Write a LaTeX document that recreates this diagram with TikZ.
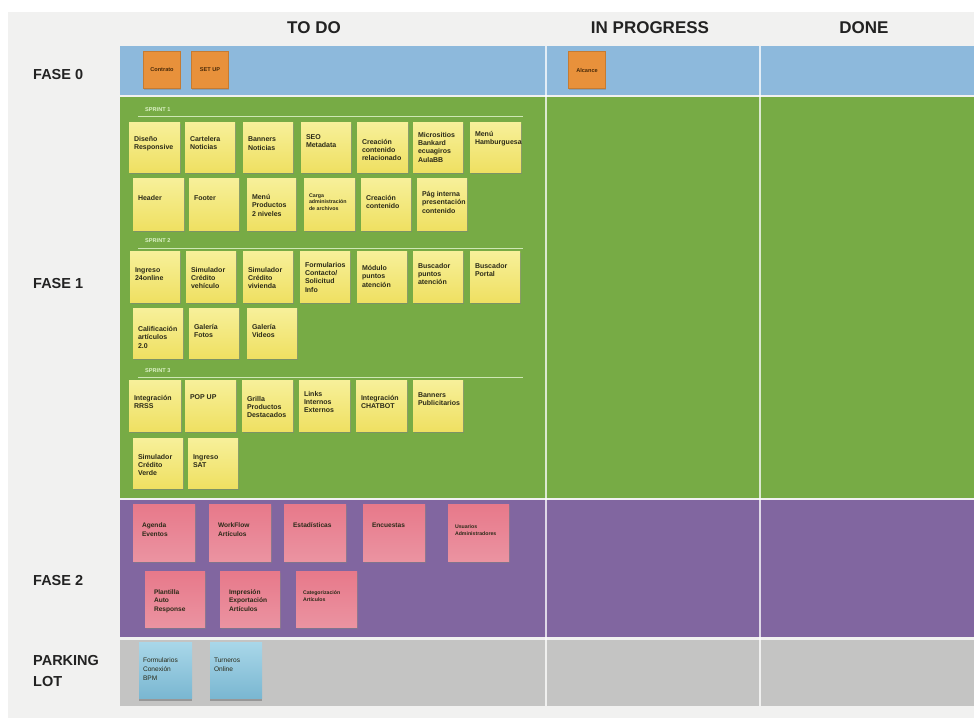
\documentclass[tikz,border=0pt]{standalone}
\usepackage{fontspec}
\setmainfont{Liberation Sans}
\usetikzlibrary{shadows}
\definecolor{pagebg}{HTML}{F1F1F0}
\definecolor{rowblue}{HTML}{8DB9DC}
\definecolor{rowgreen}{HTML}{77AB45}
\definecolor{rowpurple}{HTML}{8166A0}
\definecolor{rowgray}{HTML}{C4C4C3}
\definecolor{orangeS}{HTML}{E8913B}
\definecolor{yelT}{HTML}{F7F09A}
\definecolor{yelB}{HTML}{EFE062}
\definecolor{pnkT}{HTML}{E7798A}
\definecolor{pnkB}{HTML}{EB93A1}
\definecolor{bluT}{HTML}{A9D7E9}
\definecolor{bluB}{HTML}{7AB7D1}
\definecolor{inkS}{HTML}{2B2A18}
\definecolor{orgink}{HTML}{4A2A08}
\definecolor{sprintc}{HTML}{DDF2C8}
\definecolor{hdrc}{HTML}{222222}

\tikzset{
  note/.style={inner sep=0pt, draw=none, drop shadow={shadow xshift=0.5pt, shadow yshift=-1.6pt, opacity=0.55}},
  yel/.style={note, top color=yelT, bottom color=yelB},
  yelsm/.style={yel},
  pnk/.style={note, top color=pnkT, bottom color=pnkB},
  pnksm/.style={pnk},
  blu/.style={inner sep=0pt, draw=none, top color=bluT, bottom color=bluB,
    drop shadow={shadow xshift=0.3pt, shadow yshift=-2.5pt, opacity=0.65}},
  org/.style={inner sep=0pt, fill=orangeS, draw=orangeS!85!black, line width=0.3pt,
    minimum width=37, minimum height=37, text=orgink, font=\fontsize{5.6}{6.5}\selectfont\bfseries,
    drop shadow={shadow xshift=0.4pt, shadow yshift=-1.2pt, opacity=0.45}},
  stxt/.style={inner sep=0pt, anchor=north west, align=left, text=inkS},
  yeltxt/.style={xshift=5pt, font=\fontsize{7}{8.2}\selectfont\bfseries},
  yelsmtxt/.style={xshift=5pt, font=\fontsize{5.3}{6.6}\selectfont\bfseries},
  pnktxt/.style={xshift=9pt, font=\fontsize{6.6}{8.4}\selectfont\bfseries},
  pnksmtxt/.style={xshift=7pt, font=\fontsize{5.2}{6.4}\selectfont\bfseries},
  blutxt/.style={xshift=4pt, font=\fontsize{6.6}{9}\selectfont},
  hdr/.style={text=hdrc, font=\fontsize{17}{20}\selectfont\bfseries},
  rowlab/.style={text=hdrc, anchor=west, align=left, inner sep=0pt, font=\fontsize{14.5}{21}\selectfont\bfseries},
  sprintlab/.style={text=sprintc, anchor=west, inner sep=0pt, font=\fontsize{5.6}{6}\selectfont\bfseries},
  sprintline/.style={draw=sprintc!85!rowgreen, line width=0.8pt, dash pattern=on 1.5pt off 0.5pt},
  coldiv/.style={draw=white, opacity=0.75, line width=1.1pt},
}

% [text y offset]{name}{style}{x1}{y1}{x2}{y2}{text}
\newcommand{\stk}[8][14]{%
  \node[#3, minimum width={(#6)-(#4)}, minimum height={(#7)-(#5)}] (#2) at ({((#4)+(#6))/2},{((#5)+(#7))/2}) {};
  \node[stxt, #3txt, yshift=-#1pt] (#2-t) at (#2.north west) {#8};
}

\begin{document}
\begin{tikzpicture}[x=1pt,y=-1pt]
\useasboundingbox (0,0) rectangle (974,718);
\fill[white] (0,0) rectangle (974,718);
\fill[pagebg] (8,12) rectangle (974,718);

% rows
\fill[rowblue]   (120,46)  rectangle (974,95);
\fill[rowgreen]  (120,97)  rectangle (974,498);
\fill[rowpurple] (120,500) rectangle (974,637);
\fill[rowgray]   (120,640) rectangle (974,706);

% column dividers
\coordinate (c1t) at (546,46);  \coordinate (c1b) at (546,706);
\coordinate (c2t) at (760,46);  \coordinate (c2b) at (760,706);
\draw[coldiv] (c1t) -- (c1b);
\draw[coldiv] (c2t) -- (c2b);

% headers
\node[hdr] (h1) at (314,28) {TO DO};
\node[hdr] (h2) at (650,28) {IN PROGRESS};
\node[hdr] (h3) at (864,28) {DONE};

% row labels
\node[rowlab] (r0) at (33,75) {FASE 0};
\node[rowlab] (r1) at (33,284) {FASE 1};
\node[rowlab] (r2) at (33,580) {FASE 2};
\node[rowlab] (r3) at (33,671) {PARKING\\LOT};

% FASE 0
\node[org] (f0a) at (162,70) {Contrato};
\node[org] (f0b) at (210,70) {SET UP};
\node[org] (f0c) at (587,70) {Alcance};

% sprint labels and lines
\node[sprintlab] (sp1) at (145,110) {SPRINT 1};
\coordinate (l1a) at (138,116); \coordinate (l1b) at (523,116);
\draw[sprintline] (l1a) -- (l1b);
\node[sprintlab] (sp2) at (145,241) {SPRINT 2};
\coordinate (l2a) at (138,248); \coordinate (l2b) at (523,248);
\draw[sprintline] (l2a) -- (l2b);
\node[sprintlab] (sp3) at (145,371) {SPRINT 3};
\coordinate (l3a) at (138,377); \coordinate (l3b) at (523,377);
\draw[sprintline] (l3a) -- (l3b);

% Sprint 1
\stk[14.5]{s1a}{yel}{129}{122}{180}{172}{Diseño\\Responsive}
\stk[14.5]{s1b}{yel}{185}{122}{235}{172}{Cartelera\\Noticias}
\stk[15]{s1c}{yel}{243}{122}{293}{172}{Banners\\Noticias}
\stk[12.5]{s1d}{yel}{301}{122}{351}{172}{SEO\\Metadata}
\stk[17]{s1e}{yel}{357}{122}{408}{172}{Creación\\contenido\\relacionado}
\stk[10.5]{s1f}{yel}{413}{122}{463}{172}{Micrositios\\Bankard\\ecuagiros\\AulaBB}
\stk[9.5]{s1g}{yel}{470}{122}{521}{172}{Menú\\Hamburguesa}

\stk[17.5]{s1h}{yel}{133}{178}{184}{230}{Header}
\stk[17.5]{s1i}{yel}{189}{178}{239}{230}{Footer}
\stk[16.5]{s1j}{yel}{247}{178}{296}{230}{Menú\\Productos\\2 niveles}
\stk[15.5]{s1k}{yelsm}{304}{178}{355}{230}{Carga\\administración\\de archivos}
\stk[17.5]{s1l}{yel}{361}{178}{411}{230}{Creación\\contenido}
\stk[13.5]{s1m}{yel}{417}{178}{467}{230}{Pág interna\\presentación\\contenido}

% Sprint 2
\stk[16.5]{s2a}{yel}{130}{251}{180}{302}{Ingreso\\24online}
\stk[16.5]{s2b}{yel}{186}{251}{236}{302}{Simulador\\Crédito\\vehículo}
\stk[16.5]{s2c}{yel}{243}{251}{293}{302}{Simulador\\Crédito\\vivienda}
\stk[11.5]{s2d}{yel}{300}{251}{350}{302}{Formularios\\Contacto/\\Solicitud\\Info}
\stk[14.5]{s2e}{yel}{357}{251}{407}{302}{Módulo\\puntos\\atención}
\stk[12.5]{s2f}{yel}{413}{251}{463}{302}{Buscador\\puntos\\atención}
\stk[12.5]{s2g}{yel}{470}{251}{520}{302}{Buscador\\Portal}

\stk[18.5]{s2h}{yel}{133}{308}{183}{358}{Calificación\\artículos\\2.0}
\stk[16.5]{s2i}{yel}{189}{308}{239}{358}{Galería\\Fotos}
\stk[16.5]{s2j}{yel}{247}{308}{297}{358}{Galería\\Videos}

% Sprint 3
\stk[15.5]{s3a}{yel}{129}{380}{181}{431}{Integración\\RRSS}
\stk[14.5]{s3b}{yel}{185}{380}{236}{431}{POP UP}
\stk[16.5]{s3c}{yel}{242}{380}{293}{431}{Grilla\\Productos\\Destacados}
\stk[11.5]{s3d}{yel}{299}{380}{350}{431}{Links\\Internos\\Externos}
\stk[15.5]{s3e}{yel}{356}{380}{407}{431}{Integración\\CHATBOT}
\stk[12.5]{s3f}{yel}{413}{380}{463}{431}{Banners\\Publicitarios}

\stk[16.5]{s3g}{yel}{133}{438}{183}{488}{Simulador\\Crédito\\Verde}
\stk[16.5]{s3h}{yel}{188}{438}{238}{488}{Ingreso\\SAT}

% FASE 2
\stk[19]{p1}{pnk}{133}{504}{195}{561}{Agenda\\Eventos}
\stk[19]{p2}{pnk}{209}{504}{271}{561}{WorkFlow\\Artículos}
\stk[19]{p3}{pnk}{284}{504}{346}{561}{Estadísticas}
\stk[19]{p4}{pnk}{363}{504}{425}{561}{Encuestas}
\stk[21]{p5}{pnksm}{448}{504}{509}{561}{Usuarios\\Administradores}
\stk[18.5]{p6}{pnk}{145}{571}{205}{627}{Plantilla\\Auto\\Response}
\stk[18.5]{p7}{pnk}{220}{571}{280}{627}{Impresión\\Exportación\\Artículos}
\stk[20]{p8}{pnksm}{296}{571}{357}{627}{Categorización\\Artículos}

% PARKING LOT
\stk[16]{b1}{blu}{139}{642}{192}{698}{Formularios\\Conexión\\BPM}
\stk[16]{b2}{blu}{210}{642}{262}{698}{Turneros\\Online}
\end{tikzpicture}
\end{document}
